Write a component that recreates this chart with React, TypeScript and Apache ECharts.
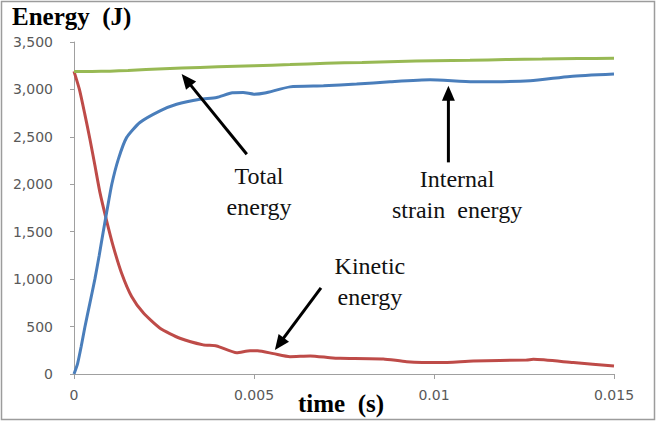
import React, { useEffect, useRef } from "react";
import * as echarts from "echarts";

// Time axis (s) and energy (J) for each curve
const totalTime = [0, 0.0005, 0.001, 0.0015, 0.002, 0.003, 0.004, 0.005, 0.006, 0.007, 0.008, 0.009, 0.01, 0.011, 0.012, 0.013, 0.014, 0.015];
const totalEnergy = [3190, 3190, 3192, 3200, 3210, 3225, 3238, 3250, 3262, 3275, 3285, 3295, 3302, 3308, 3315, 3320, 3325, 3328];

const strainTime = [0, 0.0001, 0.0002, 0.0003, 0.00044, 0.00058, 0.0007, 0.00081, 0.00091, 0.00105, 0.00123, 0.00146, 0.00183, 0.00239, 0.00285, 0.0035, 0.00396, 0.0044, 0.0047, 0.005, 0.0053, 0.006, 0.00693, 0.00785, 0.00878, 0.00989, 0.01109, 0.01267, 0.01378, 0.015];
const strainEnergy = [0, 110, 290, 490, 745, 1000, 1250, 1495, 1710, 2000, 2263, 2492, 2651, 2774, 2844, 2897, 2915, 2965, 2968, 2950, 2962, 3027, 3038, 3056, 3080, 3101, 3080, 3091, 3137, 3162];

const kineticTime = [0, 0.00015, 0.0003, 0.00044, 0.00058, 0.00072, 0.00091, 0.00109, 0.00132, 0.0016, 0.00193, 0.00239, 0.00294, 0.00359, 0.00396, 0.00452, 0.00489, 0.0051, 0.00554, 0.006, 0.00656, 0.00711, 0.00739, 0.00859, 0.00924, 0.01017, 0.01109, 0.01257, 0.01276, 0.01387, 0.015];
const kineticEnergy = [3190, 3000, 2740, 2480, 2200, 1915, 1610, 1346, 1065, 817, 642, 483, 377, 307, 296, 225, 246, 245, 215, 183, 190, 172, 166, 159, 130, 120, 137, 148, 155, 120, 85];

// Callout labels: [time, energy] of the text block centre
const callouts = [
  { text: "Total\nenergy", at: [0.00514, 1919] },
  { text: "Internal\nstrain  energy", at: [0.01064, 1893] },
  { text: "Kinetic\nenergy", at: [0.00822, 978] },
];

// Callout arrows: tail and head in [time, energy]
const arrows = [
  { from: [0.0048, 2316], to: [0.00299, 3162] },
  { from: [0.0104, 2231], to: [0.0104, 3038] },
  { from: [0.00686, 909], to: [0.00558, 254] },
];

const zip = (xs: number[], ys: number[]) => xs.map((x, i) => [x, ys[i]]);

export default function App() {
  const ref = useRef<HTMLDivElement>(null);

  useEffect(() => {
    if (!ref.current) return;
    const chart = echarts.init(ref.current, null, { renderer: "svg" });
    const axisGray = "#a0a0a0";
    const labelGray = "#595959";
    const serif = "'Liberation Serif', 'Times New Roman', serif";

    chart.setOption({
      animation: false,
      backgroundColor: "#ffffff",
      title: {
        text: "Energy  (J)",
        left: 12,
        top: 2,
        padding: 0,
        textStyle: { fontFamily: serif, fontWeight: "bold", fontSize: 25, lineHeight: 28, color: "#000" },
      },
      grid: { left: 74, right: 46, top: 42, bottom: 49, outerBoundsMode: "none", containLabel: false },
      xAxis: {
        type: "value",
        min: 0,
        max: 0.015,
        interval: 0.005,
        name: "time  (s)",
        nameLocation: "middle",
        nameGap: 17,
        nameMoveOverlap: false,
        nameTextStyle: {
          fontFamily: serif,
          fontWeight: "bold",
          fontSize: 25,
          color: "#000",
          verticalAlign: "top",
          padding: [0, 0, 0, -6],
        },
        axisLine: { lineStyle: { color: axisGray, width: 1 } },
        axisTick: { show: true, length: 5, lineStyle: { color: axisGray } },
        axisLabel: {
          margin: 14,
          fontFamily: "'DejaVu Sans', sans-serif",
          fontSize: 14,
          color: labelGray,
          formatter: (v: number) => String(+v.toFixed(4)),
        },
        splitLine: { show: false },
      },
      yAxis: {
        type: "value",
        min: 0,
        max: 3500,
        interval: 500,
        axisLine: { show: true, lineStyle: { color: axisGray, width: 1 } },
        axisTick: { show: true, length: 4, lineStyle: { color: axisGray } },
        axisLabel: {
          margin: 21,
          fontFamily: "'DejaVu Sans', sans-serif",
          fontSize: 14,
          color: labelGray,
          formatter: (v: number) => v.toLocaleString("en-US"),
        },
        splitLine: { show: false },
      },
      series: [
        {
          name: "Total energy",
          type: "line",
          data: zip(totalTime, totalEnergy),
          showSymbol: false,
          smooth: 0.2,
          lineStyle: { color: "#98b954", width: 3 },
          z: 3,
        },
        {
          name: "Internal strain energy",
          type: "line",
          data: zip(strainTime, strainEnergy),
          showSymbol: false,
          smooth: 0.2,
          lineStyle: { color: "#4a7ebb", width: 3 },
          z: 2,
        },
        {
          name: "Kinetic energy",
          type: "line",
          data: zip(kineticTime, kineticEnergy),
          showSymbol: false,
          smooth: 0.2,
          lineStyle: { color: "#be4b48", width: 3 },
          z: 1,
        },
      ],
    });

    // Callout texts and arrows placed through the grid's coordinate system
    const graphics: any[] = [
      {
        type: "rect",
        shape: { x: 1.5, y: 1.5, width: 653, height: 418 },
        style: { fill: "none", stroke: "#9c9c9c", lineWidth: 1.5 },
        silent: true,
        z: 0,
      },
    ];

    callouts.forEach((c) => {
      const [px, py] = chart.convertToPixel({ gridIndex: 0 }, c.at) as number[];
      graphics.push({
        type: "text",
        x: px,
        y: py,
        style: {
          text: c.text,
          fontFamily: serif,
          fontSize: 24,
          lineHeight: 31,
          fill: "#111",
          align: "center",
          verticalAlign: "middle",
        },
        z: 10,
      });
    });

    arrows.forEach((a) => {
      const [x0, y0] = chart.convertToPixel({ gridIndex: 0 }, a.from) as number[];
      const [x1, y1] = chart.convertToPixel({ gridIndex: 0 }, a.to) as number[];
      const dx = x1 - x0;
      const dy = y1 - y0;
      const len = Math.hypot(dx, dy);
      const ux = dx / len;
      const uy = dy / len;
      const headL = 15;
      const headW = 13;
      const bx = x1 - ux * headL;
      const by = y1 - uy * headL;
      graphics.push({
        type: "line",
        shape: { x1: x0, y1: y0, x2: bx + ux * 2, y2: by + uy * 2 },
        style: { stroke: "#000", lineWidth: 3 },
        z: 10,
      });
      graphics.push({
        type: "polygon",
        shape: {
          points: [
            [x1, y1],
            [bx - uy * headW / 2, by + ux * headW / 2],
            [bx + uy * headW / 2, by - ux * headW / 2],
          ],
        },
        style: { fill: "#000" },
        z: 10,
      });
    });

    chart.setOption({ graphic: graphics });

    return () => chart.dispose();
  }, []);

  return (
    <div
      ref={ref}
      style={{ position: "fixed", left: 0, top: 0, width: 660, height: 423, background: "#fff" }}
    />
  );
}
